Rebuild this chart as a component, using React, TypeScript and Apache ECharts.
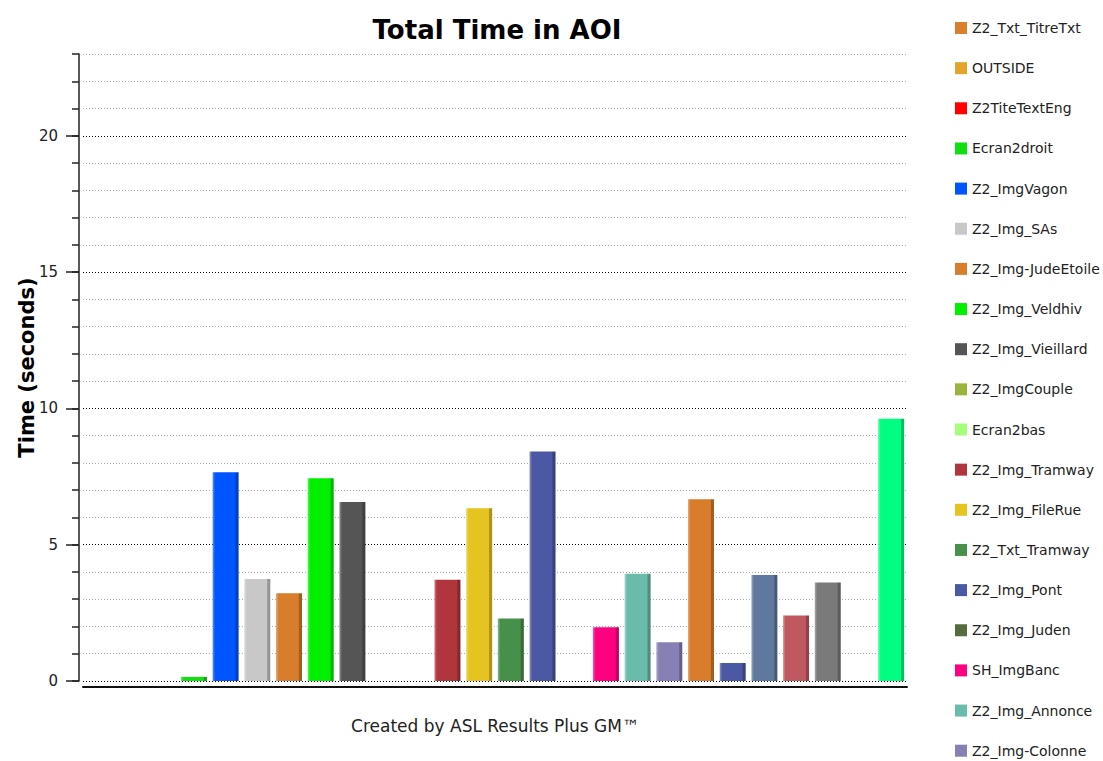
import React, { useEffect, useRef } from "react";
import * as echarts from "echarts";

const FONT = "DejaVu Sans";

const seriesNames = [
  "Z2_Txt_TitreTxt", "OUTSIDE", "Z2TiteTextEng", "Ecran2droit", "Z2_ImgVagon",
  "Z2_Img_SAs", "Z2_Img-JudeEtoile", "Z2_Img_Veldhiv", "Z2_Img_Vieillard", "Z2_ImgCouple",
  "Ecran2bas", "Z2_Img_Tramway", "Z2_Img_FileRue", "Z2_Txt_Tramway", "Z2_Img_Pont",
  "Z2_Img_Juden", "SH_ImgBanc", "Z2_Img_Annonce", "Z2_Img-Colonne",
  "AOI 20", "AOI 21", "AOI 22", "AOI 23", "AOI 24", "AOI 25", "AOI 26",
];

const values = [
  0, 0, 0, 0.15, 7.66,
  3.74, 3.22, 7.44, 6.57, 0,
  0, 3.71, 6.34, 2.29, 8.42,
  0, 1.97, 3.93, 1.42,
  6.67, 0.66, 3.89, 2.4, 3.61, 0, 9.62,
];

const colors = [
  "#D87E2C", "#E4A42C", "#FF0000", "#10E010", "#0055FF",
  "#C8C8C8", "#D87D2C", "#00F000", "#555555", "#9AB33A",
  "#A6FF7A", "#B0353D", "#E5C420", "#46904A", "#4B58A4",
  "#566B3E", "#FF0080", "#6ABCAA", "#8680B4",
  "#D87D2C", "#4B58A4", "#60789E", "#C05860", "#7A7A7A", "#A0522D", "#00FF80",
];

const legendCount = 19;
const yMax = 23;
const majorTicks = [0, 5, 10, 15, 20];

function shade(hex: string, f: number): string {
  const n = parseInt(hex.slice(1), 16);
  let r = (n >> 16) & 255, g = (n >> 8) & 255, b = n & 255;
  if (f >= 0) {
    r = Math.round(r + (255 - r) * f);
    g = Math.round(g + (255 - g) * f);
    b = Math.round(b + (255 - b) * f);
  } else {
    r = Math.round(r * (1 + f));
    g = Math.round(g * (1 + f));
    b = Math.round(b * (1 + f));
  }
  return `rgb(${r},${g},${b})`;
}

export default function App() {
  const ref = useRef<HTMLDivElement>(null);
  useEffect(() => {
    if (!ref.current) return;
    const chart = echarts.init(ref.current, null, { renderer: "svg" });
    const series = seriesNames.map((name, i) => ({
      name,
      type: "bar",
      barWidth: 26,
      barGap: "-100%",
      yAxisIndex: 0,
      data: seriesNames.map((_, j) => (j === i ? values[i] : null)),
      itemStyle: {
        color: new echarts.graphic.LinearGradient(0, 0, 1, 0, [
          { offset: 0, color: shade(colors[i], 0.35) },
          { offset: 0.1, color: colors[i] },
          { offset: 0.86, color: colors[i] },
          { offset: 0.9, color: shade(colors[i], -0.25) },
          { offset: 1, color: shade(colors[i], -0.25) },
        ]),
      },
    }));
    chart.setOption({
      animation: false,
      backgroundColor: "#ffffff",
      textStyle: { fontFamily: FONT },
      grid: { left: 83, right: 196, top: 54, bottom: 80, containLabel: false },
      legend: {
        orient: "vertical",
        left: 955,
        top: 21,
        height: 750,
        padding: 0,
        itemWidth: 12,
        itemHeight: 12,
        itemGap: 26.15,
        icon: "rect",
        textStyle: { fontFamily: FONT, fontSize: 14, color: "#222" },
        data: seriesNames.slice(0, legendCount).map((n, i) => ({
          name: n,
          itemStyle: { color: colors[i] },
        })),
      },
      xAxis: {
        type: "category",
        data: seriesNames,
        offset: 6,
        axisLine: { show: true, onZero: false, lineStyle: { color: "#111", width: 2 } },
        axisTick: { show: false },
        axisLabel: { show: false },
        splitLine: { show: false },
      },
      yAxis: [
        {
          type: "value",
          min: 0,
          max: yMax,
          interval: 1,
          position: "left",
          offset: 4,
          name: "Time (seconds)",
          nameLocation: "middle",
          nameGap: 42,
          nameMoveOverlap: false,
          nameTextStyle: { fontFamily: FONT, fontSize: 21, fontWeight: "bold", color: "#000" },
          axisLine: { show: true, lineStyle: { color: "#222", width: 1.5 } },
          axisTick: { show: true, length: 7, lineStyle: { color: "#222", width: 1.5 } },
          axisLabel: {
            margin: 21,
            fontFamily: FONT,
            fontSize: 15,
            color: "#222",
            formatter: (v: number) => (majorTicks.includes(v) ? String(v) : ""),
          },
          splitLine: {
            show: true,
            lineStyle: {
              color: ["#000", "#aaa", "#aaa", "#aaa", "#aaa"],
              type: [1, 2],
              width: 1,
            },
          },
        },
        {
          type: "value",
          min: 0,
          max: yMax,
          interval: 5,
          position: "left",
          offset: 4,
          axisLine: { show: false },
          axisTick: {
            show: true,
            length: 13,
            customValues: majorTicks,
            lineStyle: { color: "#222", width: 1.5 },
          },
          axisLabel: { show: false },
          splitLine: { show: false },
        },
      ],
      graphic: [
        {
          type: "text",
          x: 497,
          y: 30,
          style: {
            text: "Total Time in AOI",
            textAlign: "center",
            textVerticalAlign: "middle",
            font: `bold 26px "${FONT}"`,
            fill: "#000",
          },
        },
        {
          type: "text",
          x: 495,
          y: 726,
          style: {
            text: "Created by ASL Results Plus GM™",
            textAlign: "center",
            textVerticalAlign: "middle",
            font: `17px "${FONT}"`,
            fill: "#222",
          },
        },
      ],
      series,
    });
    return () => chart.dispose();
  }, []);
  return <div ref={ref} style={{ width: 1103, height: 761, position: "absolute", left: 0, top: 0 }} />;
}
